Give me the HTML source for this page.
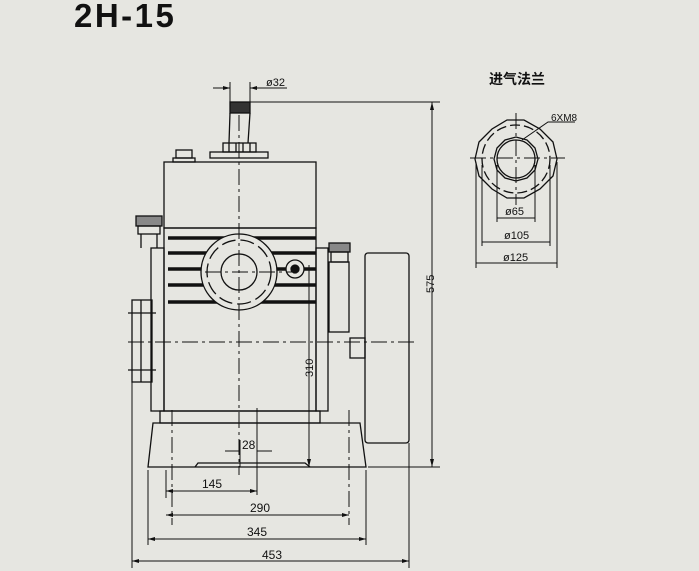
<!DOCTYPE html>
<html><head><meta charset="utf-8"><style>
html,body{margin:0;padding:0;background:#e6e6e1;}
svg{display:block;}
text{font-family:"Liberation Sans","Noto Sans CJK SC",sans-serif;fill:#111;}
</style></head><body>
<svg width="699" height="571" viewBox="0 0 699 571" xmlns="http://www.w3.org/2000/svg">
<rect width="699" height="571" fill="#e6e6e1"/>
<text x="74" y="27" font-size="33" font-weight="bold" letter-spacing="2.5">2H-15</text>
<g stroke="#111" stroke-width="1.3" fill="none">
<rect x="230" y="102" width="20" height="11" fill="#333"/>
<path d="M230 113 L229 143 M250 113 L248 143"/>
<rect x="223" y="143" width="33" height="9"/>
<path d="M229 143v9M236 143v9M243 143v9M250 143v9"/>
<rect x="210" y="152" width="58" height="6"/>
<rect x="176" y="150" width="16" height="8"/><rect x="173" y="158" width="22" height="4"/>
<rect x="164" y="162" width="152" height="66"/>
<rect x="164" y="228" width="152" height="183"/>
<rect x="151" y="248" width="13" height="163"/>
<rect x="316" y="248" width="12" height="163"/>
<g stroke-width="3.5">
<path d="M168 238h148M168 253h148M168 269h148M168 285h148M168 302h148"/>
</g>
<circle cx="239" cy="272" r="38" fill="#e6e6e1"/>
<circle cx="239" cy="272" r="32" stroke-dasharray="14 5"/>
<circle cx="239" cy="272" r="18"/>
<circle cx="295" cy="269" r="9" fill="#e6e6e1"/><circle cx="295" cy="269" r="4" fill="#111"/>
<rect x="136" y="216" width="26" height="10" fill="#888"/>
<rect x="138" y="226" width="22" height="8"/>
<path d="M141 234v14M157 234v14"/>
<rect x="132" y="300" width="20" height="82"/><path d="M141 300v82M128 313h28M128 370h28"/>
<rect x="329" y="243" width="21" height="9" fill="#888"/>
<rect x="331" y="252" width="17" height="10"/>
<rect x="329" y="262" width="20" height="70"/>
<rect x="365" y="253" width="44" height="190" rx="3"/>
<rect x="350" y="338" width="15" height="20"/>
<rect x="160" y="411" width="160" height="12"/>
<path d="M153 423 H360 L366 467 H148 Z"/>
<path d="M195 467 L198 463 H305 L310 467"/>
<g stroke-width="1" stroke-dasharray="16 4 3 4">
<path d="M239 115V475"/><path d="M128 342H415"/><path d="M516 113V205"/><path d="M470 158H565"/>
<path d="M205 272H292"/><path d="M172 410V525"/><path d="M349 410V525"/>
</g>
<g stroke-width="1">
<path d="M250 102H440M368 467H440M432 102V467"/>
<path d="M309 265V467"/>
<path d="M257 408V495M240 440V467"/>
<path d="M166 491H257M166 515H349M148 539H366M132 561H409"/>
<path d="M166 470V498M148 470V545M366 470V545M132 382V568M409 443V568"/>
<path d="M230 82V102M250 82V102M213 88H230M250 88H287M225 451H240M257 451H272"/>
</g>
<g fill="#111" stroke="none">
<path d="M432 102l-2 8h4z M432 467l-2-8h4z M166 491l7-2v4z M257 491l-7-2v4z M166 515l7-2v4z M349 515l-7-2v4z M148 539l7-2v4z M366 539l-7-2v4z M132 561l7-2v4z M409 561l-7-2v4z M309 467l-2-8h4z M230 88l-7-2v4z M250 88l7-2v4z"/>
</g>
<polygon points="557,158 553,141 540,128 524,119 507,119 492,128 479,141 475,158 479,175 492,188 507,197 524,197 540,188 553,175" transform="translate(0,1)"/>
<circle cx="516" cy="159" r="34" stroke-dasharray="10 4"/>
<polygon points="538,159 535,148 527,140 516,137 505,140 497,148 494,159 497,170 505,178 516,181 527,178 535,170"/>
<circle cx="516" cy="159" r="19"/>
<g stroke-width="1">
<path d="M497 165V222M535 165V222M482 165V246M550 165V246M476 162V268M557 162V268"/>
<path d="M497 218H535M482 242H550M476 263H557"/>
<path d="M522 140L548 122H575"/>
</g>
</g>
<g font-size="12">
<text x="266" y="86" font-size="11">ø32</text>
<text x="416" y="295" font-size="11" transform="rotate(-90 424 285)">575</text>
<text x="298" y="378" font-size="11" transform="rotate(-90 305 370)">310</text>
<text x="242" y="449" font-size="12">28</text>
<text x="202" y="488">145</text>
<text x="250" y="512">290</text>
<text x="247" y="536">345</text>
<text x="262" y="559">453</text>
<text x="489" y="84" font-size="14" font-weight="bold">进气法兰</text>
<text x="551" y="121" font-size="10">6XM8</text>
<text x="505" y="215" font-size="11">ø65</text>
<text x="504" y="239" font-size="11">ø105</text>
<text x="503" y="261" font-size="11">ø125</text>
</g>
</svg>
</body></html>
